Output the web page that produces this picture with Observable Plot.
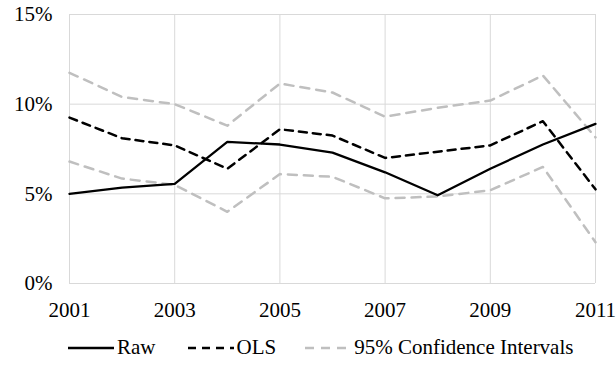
<!DOCTYPE html>
<html>
<head>
<meta charset="utf-8">
<script src="https://cdn.jsdelivr.net/npm/d3@7"></script>
<script src="https://cdn.jsdelivr.net/npm/@observablehq/plot@0.6"></script>
<style>
  body { margin: 0; background: #fff; font-family: 'Liberation Serif', Tinos, Times, serif; }
  #chart { width: 616px; }
  #chart svg text { font-family: 'Liberation Serif', Tinos, Times, serif; }
  .legend {
    display: flex; align-items: center; height: 35px;
    margin-left: 68px; font-family: 'Liberation Serif', Tinos, Times, serif;
    font-size: 21px; color: #000;
  }
  .legend .item { display: flex; align-items: center; }
  .legend svg { margin-right: 3px; }
</style>
</head>
<body>
<div id="chart"></div>
<script>
// Years on the x axis
const years = [2001, 2002, 2003, 2004, 2005, 2006, 2007, 2008, 2009, 2010, 2011];
const yearTicks = [2001, 2003, 2005, 2007, 2009, 2011];
const pctTicks = [0, 5, 10, 15];

// Rates in percent
const raw     = [5.0, 5.35, 5.55, 7.9, 7.75, 7.3, 6.2, 4.92, 6.4, 7.75, 8.9];
const ols     = [9.25, 8.1, 7.7, 6.4, 8.6, 8.25, 7.0, 7.35, 7.7, 9.05, 5.25];
const ciUpper = [11.75, 10.4, 10.0, 8.8, 11.15, 10.65, 9.3, 9.8, 10.2, 11.6, 8.15];
const ciLower = [6.8, 5.85, 5.5, 4.0, 6.1, 5.95, 4.75, 4.85, 5.2, 6.5, 2.3];

const series = (name, values) => years.map((year, i) => ({series: name, year, value: values[i]}));
const rawData = series("Raw", raw);
const olsData = series("OLS", ols);
const upperData = series("Upper", ciUpper);
const lowerData = series("Lower", ciLower);

const font = "'Liberation Serif', Tinos, Times, serif";
const grid = "#d9d9d9";
const ciColor = "#bfbfbf";

const chart = Plot.plot({
  width: 616,
  height: 330,
  marginLeft: 69,
  marginRight: 21,
  marginTop: 14,
  marginBottom: 47,
  style: {fontFamily: font, fontSize: "21px", color: "#000", background: "#fff"},
  x: {domain: [2001, 2011], ticks: yearTicks, tickFormat: d => String(d), tickSize: 0, tickPadding: 19, label: null},
  y: {domain: [0, 15], ticks: pctTicks, tickFormat: d => d + "%", tickSize: 0, tickPadding: 17, label: null},
  marks: [
    Plot.gridY(pctTicks, {stroke: grid, strokeOpacity: 1, strokeWidth: 1}),
    Plot.gridX(yearTicks, {stroke: grid, strokeOpacity: 1, strokeWidth: 1}),
    Plot.line(upperData, {x: "year", y: "value", stroke: ciColor, strokeWidth: 2.5, strokeDasharray: "9,7"}),
    Plot.line(lowerData, {x: "year", y: "value", stroke: ciColor, strokeWidth: 2.5, strokeDasharray: "9,7"}),
    Plot.line(olsData, {x: "year", y: "value", stroke: "#000", strokeWidth: 2.5, strokeDasharray: "8,6"}),
    Plot.line(rawData, {x: "year", y: "value", stroke: "#000", strokeWidth: 2.3})
  ]
});
document.getElementById("chart").appendChild(chart);

// Legend below the plot
const legendItems = [
  {label: "Raw", color: "#000", dash: null, width: 2.3, gap: 32},
  {label: "OLS", color: "#000", dash: "8,6", width: 2.5, gap: 29},
  {label: "95% Confidence Intervals", color: ciColor, dash: "9,7", width: 2.5, gap: 0}
];
const legend = document.createElement("div");
legend.className = "legend";
for (const it of legendItems) {
  const item = document.createElement("div");
  item.className = "item";
  item.style.marginRight = it.gap + "px";
  const sw = d3.create("svg").attr("width", 46).attr("height", 10);
  sw.append("line").attr("x1", 0).attr("x2", 46).attr("y1", 5).attr("y2", 5)
    .attr("stroke", it.color).attr("stroke-width", it.width)
    .attr("stroke-dasharray", it.dash);
  item.appendChild(sw.node());
  const t = document.createElement("span");
  t.textContent = it.label;
  item.appendChild(t);
  legend.appendChild(item);
}
document.getElementById("chart").appendChild(legend);
</script>
</body>
</html>
